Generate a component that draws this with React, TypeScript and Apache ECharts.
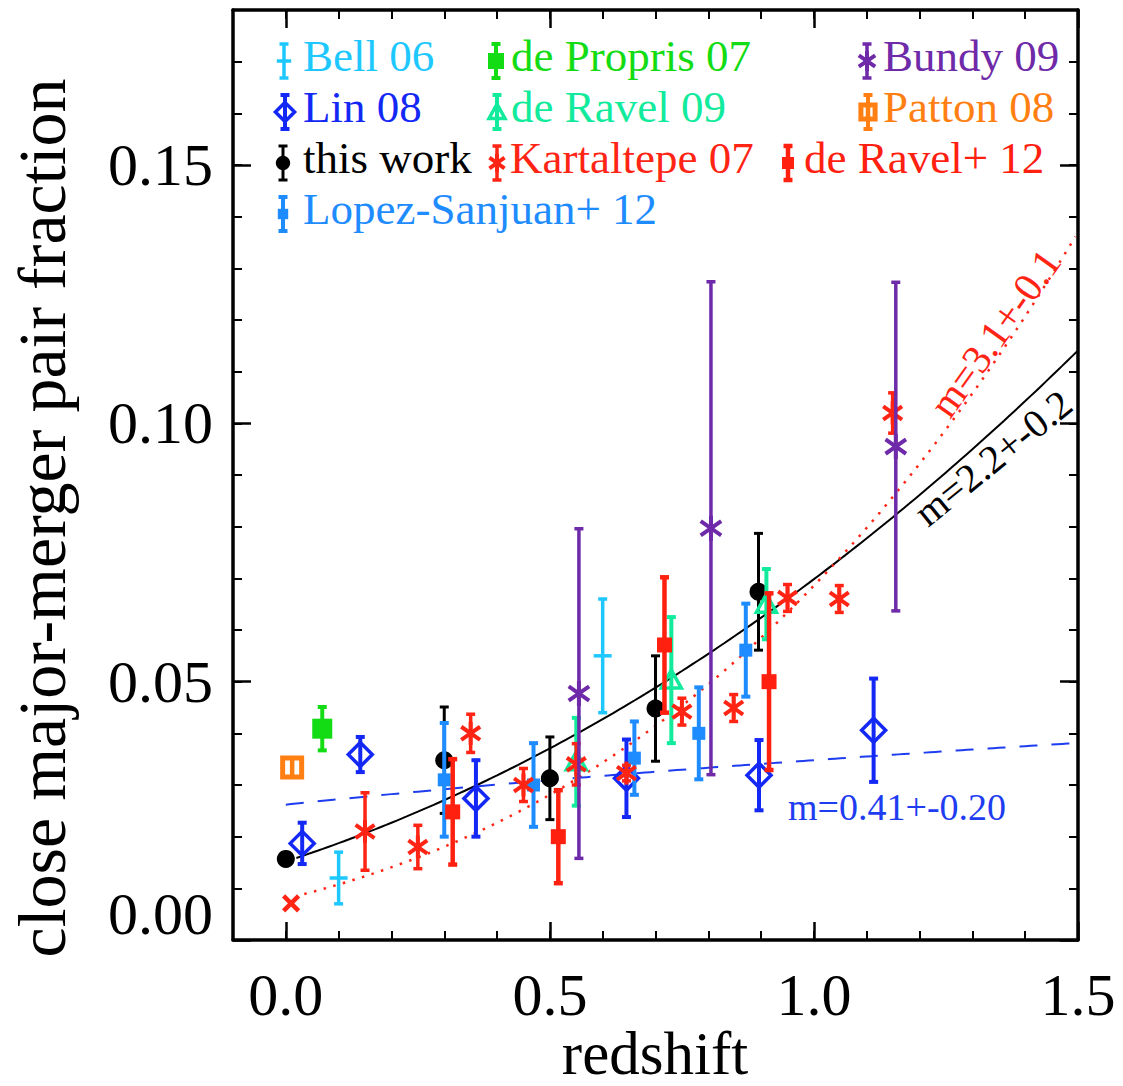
import React, { useEffect, useRef } from "react";
import * as echarts from "echarts";

const SERIF = '"Liberation Serif", "Times New Roman", "DejaVu Serif", serif';

// Axis ticks
const xMajorTicks = [0, 0.5, 1.0, 1.5];
const yMajorTicks = [0, 0.05, 0.1, 0.15];

// Close-pair fractions: redshift, fraction, 1-sigma error
const bellZ = [0.1, 0.6];
const bellF = [0.012, 0.055];
const bellE = [0.005, 0.011];

const linZ = [0.031, 0.141, 0.36, 0.645, 0.896, 1.113];
const linF = [0.0187, 0.0359, 0.0274, 0.0313, 0.0319, 0.0406];
const linE = [0.004, 0.0034, 0.0074, 0.0075, 0.0068, 0.01];

const thisWorkZ = [0.0, 0.3, 0.5, 0.7, 0.895];
const thisWorkF = [0.0157, 0.0348, 0.0313, 0.0448, 0.0674];
const thisWorkE = [0.0008, 0.0103, 0.008, 0.0102, 0.0113];

const lopezZ = [0.3, 0.469, 0.66, 0.782, 0.871];
const lopezF = [0.031, 0.03, 0.0352, 0.04, 0.0561];
const lopezE = [0.011, 0.0081, 0.0071, 0.0089, 0.009];

const dePropZ = [0.069];
const dePropF = [0.0409];
const dePropE = [0.0042];

const deRavel09Z = [0.55, 0.73, 0.91];
const deRavel09F = [0.0345, 0.0503, 0.065];
const deRavel09E = [0.0085, 0.0122, 0.0068];

const kartZ = [0.15, 0.25, 0.35, 0.45, 0.55, 0.645, 0.75, 0.848, 0.95, 1.048, 1.149];
const kartF = [0.021, 0.018, 0.04, 0.03, 0.034, 0.0323, 0.0442, 0.0449, 0.0662, 0.066, 0.102];
const kartE = [0.0075, 0.0042, 0.0037, 0.0032, 0.004, 0.0015, 0.0026, 0.0026, 0.0026, 0.0026, 0.0039];

const kartLocalZ = [0.01];
const kartLocalF = [0.0071];
const kartLocalE = [0];

const deRavel12Z = [0.316, 0.516, 0.717, 0.915];
const deRavel12F = [0.0248, 0.02, 0.0571, 0.05];
const deRavel12E = [0.0102, 0.009, 0.0131, 0.0171];

const bundyZ = [0.555, 0.805, 1.155];
const bundyF = [0.0477, 0.0797, 0.0955];
const bundyE = [0.0319, 0.0477, 0.0318];

const pattonZ = [0.012];
const pattonF = [0.0334];
const pattonE = [0.0012];

// Power-law fits f(z) = f0 (1+z)^m
const fitLabels = ["m=2.2+-0.2", "m=3.1+-0.1", "m=0.41+-0.20"];
const fitM = [2.2, 3.1, 0.41];
const fitNorm = [0.0152, 0.008, 0.0262];
const fitStart = [0.02, 0.035, 0.0];

type Kind = "circle" | "square" | "diamond" | "triangle" | "star" | "plus" | "cross" | "box";
interface Look {
  color: string;
  kind: Kind;
  size: number;
  bar: number;
}

const looks: Record<string, Look> = {
  bell: { color: "#1EC8FF", kind: "plus", size: 18, bar: 3.5 },
  lin: { color: "#1428F5", kind: "diamond", size: 24, bar: 4 },
  thisWork: { color: "#000000", kind: "circle", size: 18, bar: 3 },
  lopez: { color: "#1E8CFF", kind: "square", size: 13, bar: 4 },
  deProp: { color: "#14DC14", kind: "square", size: 20, bar: 4 },
  deRavel09: { color: "#12EA9C", kind: "triangle", size: 20, bar: 4 },
  kart: { color: "#FF2414", kind: "star", size: 23, bar: 3.5 },
  kartLocal: { color: "#FF2414", kind: "cross", size: 20, bar: 3.5 },
  deRavel12: { color: "#FF2010", kind: "square", size: 15, bar: 4.5 },
  bundy: { color: "#6E2AA8", kind: "star", size: 25, bar: 3.5 },
  patton: { color: "#FF7F12", kind: "box", size: 24, bar: 4 },
};

function seg(x1: number, y1: number, x2: number, y2: number, color: string, w: number) {
  return { type: "line", shape: { x1, y1, x2, y2 }, style: { stroke: color, lineWidth: w } };
}

function markerShapes(kind: Kind, cx: number, cy: number, size: number, color: string): any[] {
  const h = size / 2;
  switch (kind) {
    case "circle":
      return [{ type: "circle", shape: { cx, cy, r: h }, style: { fill: color } }];
    case "square":
      return [{ type: "rect", shape: { x: cx - h, y: cy - h, width: size, height: size }, style: { fill: color } }];
    case "diamond":
      return [
        {
          type: "polygon",
          shape: { points: [[cx, cy - h], [cx + h, cy], [cx, cy + h], [cx - h, cy]] },
          style: { fill: "none", stroke: color, lineWidth: 3.5 },
        },
      ];
    case "triangle":
      return [
        {
          type: "polygon",
          shape: { points: [[cx, cy - h], [cx + h, cy + h * 0.8], [cx - h, cy + h * 0.8]] },
          style: { fill: "none", stroke: color, lineWidth: 3.5 },
        },
      ];
    case "star": {
      const a = (35 * Math.PI) / 180;
      const dx = h * Math.cos(a);
      const dy = h * Math.sin(a);
      return [
        seg(cx, cy - h, cx, cy + h, color, 4),
        seg(cx - dx, cy - dy, cx + dx, cy + dy, color, 4),
        seg(cx - dx, cy + dy, cx + dx, cy - dy, color, 4),
      ];
    }
    case "plus":
      return [seg(cx - h, cy, cx + h, cy, color, 3.5)];
    case "cross": {
      const d = h * 0.75;
      return [seg(cx - d, cy - d, cx + d, cy + d, color, 4.5), seg(cx - d, cy + d, cx + d, cy - d, color, 4.5)];
    }
    case "box":
      return [
        {
          type: "rect",
          shape: { x: cx - h + 2.5, y: cy - h + 2.5, width: size - 5, height: size - 5 },
          style: { fill: "#fff", stroke: color, lineWidth: 5 },
        },
        seg(cx, cy - h + 4, cx, cy + h - 4, color, 4.5),
      ];
  }
  return [];
}

function errorBar(x: number, yTop: number, yBot: number, color: string, w: number): any[] {
  if (Math.abs(yBot - yTop) < 1) return [];
  const cap = 4.5;
  return [seg(x, yTop, x, yBot, color, w), seg(x - cap, yTop, x + cap, yTop, color, w), seg(x - cap, yBot, x + cap, yBot, color, w)];
}

function pointSeries(name: string, z: number[], f: number[], e: number[], look: Look) {
  return {
    type: "custom",
    name,
    clip: false,
    data: z.map((v, i) => [v, f[i], f[i] - e[i], f[i] + e[i]]),
    encode: { x: 0, y: 1 },
    renderItem: (_params: any, api: any) => {
      const c = api.coord([api.value(0), api.value(1)]);
      const lo = api.coord([api.value(0), api.value(2)]);
      const hi = api.coord([api.value(0), api.value(3)]);
      return {
        type: "group",
        children: [
          ...errorBar(c[0], hi[1], lo[1], look.color, look.bar),
          ...markerShapes(look.kind, c[0], c[1], look.size, look.color),
        ],
      };
    },
    z: 3,
  };
}

function fitCurve(k: number) {
  const pts: number[][] = [];
  for (let z = fitStart[k]; z <= 1.5001; z += 0.01) pts.push([z, fitNorm[k] * Math.pow(1 + z, fitM[k])]);
  return pts;
}

// Legend layout: label, style key, icon x, text x, row
const legendLabels = ["Bell 06", "de Propris 07", "Bundy 09", "Lin 08", "de Ravel 09", "Patton 08", "this work", "Kartaltepe 07", "de Ravel+ 12", "Lopez-Sanjuan+ 12"];
const legendKeys = ["bell", "deProp", "bundy", "lin", "deRavel09", "patton", "thisWork", "kart", "deRavel12", "lopez"];
const legendIconX = [284, 496, 867, 285, 497, 868, 283, 497, 788, 283];
const legendTextX = [303, 511, 883, 303, 511, 883, 303, 510, 804, 303];
const legendRow = [0, 0, 0, 1, 1, 1, 2, 2, 2, 3];
const legendRowY = [56, 107, 158, 209];

function legendGraphics() {
  const out: any[] = [];
  legendLabels.forEach((label, i) => {
    const look = looks[legendKeys[i]];
    const ty = legendRowY[legendRow[i]];
    const iy = ty + 5;
    const ix = legendIconX[i];
    out.push({
      type: "group",
      z: 100,
      children: [
        ...errorBar(ix, iy - 17, iy + 17, look.color, look.bar),
        ...markerShapes(look.kind, ix, iy, look.size * 0.8, look.color),
      ],
    });
    out.push({
      type: "text",
      z: 100,
      x: legendTextX[i],
      y: ty,
      style: {
        text: label,
        fill: look.color,
        fontSize: 45,
        fontFamily: SERIF,
        align: "left",
        verticalAlign: "middle",
        textAlign: "left",
        textVerticalAlign: "middle",
      },
    });
  });
  return out;
}

function textEl(text: string, x: number, y: number, size: number, color: string, rotDeg: number, align = "center") {
  return {
    type: "text",
    z: 100,
    x,
    y,
    rotation: (rotDeg * Math.PI) / 180,
    style: {
      text,
      fill: color,
      fontSize: size,
      fontFamily: SERIF,
      align,
      verticalAlign: "middle",
      textAlign: align,
      textVerticalAlign: "middle",
    },
  };
}

function buildOption(): any {
  const frame = { color: "#000", width: 3.5 };
  const majorTick = { color: "#000", width: 2.5 };
  const minorTick = { color: "#000", width: 2 };
  const labelFont = { fontFamily: SERIF, fontSize: 60, color: "#000" };

  const xBase = { type: "value", min: -0.1, max: 1.5, splitLine: { show: false } };
  const yBase = { type: "value", min: 0, max: 0.18, splitLine: { show: false } };
  // Ticks point into the plot frame
  const majorTickOpt = (vals: number[]) => ({ show: true, inside: false, length: -18, customValues: vals, lineStyle: majorTick });
  const minorTickOpt = { show: true, inside: false, length: -9, lineStyle: minorTick };
  const hiddenLine = { show: false, onZero: false };

  return {
    animation: false,
    backgroundColor: "#fff",
    grid: { left: 233, top: 10, width: 845, height: 930, containLabel: false, outerBoundsMode: "none" },
    xAxis: [
      {
        ...xBase,
        position: "bottom",
        axisLine: { show: true, onZero: false, lineStyle: frame },
        axisTick: majorTickOpt(xMajorTicks),
        axisLabel: { show: true, customValues: xMajorTicks, formatter: (v: number) => v.toFixed(1), margin: 25, ...labelFont },
      },
      {
        ...xBase,
        position: "bottom",
        interval: 0.1,
        axisLine: hiddenLine,
        axisTick: minorTickOpt,
        axisLabel: { show: false },
      },
      {
        ...xBase,
        position: "top",
        axisLine: { show: true, onZero: false, lineStyle: frame },
        axisTick: majorTickOpt(xMajorTicks),
        axisLabel: { show: false },
      },
      {
        ...xBase,
        position: "top",
        interval: 0.1,
        axisLine: hiddenLine,
        axisTick: minorTickOpt,
        axisLabel: { show: false },
      },
    ],
    yAxis: [
      {
        ...yBase,
        position: "left",
        axisLine: { show: true, onZero: false, lineStyle: frame },
        axisTick: majorTickOpt(yMajorTicks),
        axisLabel: {
          show: true,
          customValues: yMajorTicks,
          margin: 20,
          formatter: (v: number) => (Math.abs(v) < 1e-9 ? "{low|0.00}" : v.toFixed(2)),
          rich: { low: { ...labelFont, padding: [0, 0, 52, 0] } },
          ...labelFont,
        },
      },
      {
        ...yBase,
        position: "left",
        interval: 0.01,
        axisLine: hiddenLine,
        axisTick: minorTickOpt,
        axisLabel: { show: false },
      },
      {
        ...yBase,
        position: "right",
        axisLine: { show: true, onZero: false, lineStyle: frame },
        axisTick: majorTickOpt(yMajorTicks),
        axisLabel: { show: false },
      },
      {
        ...yBase,
        position: "right",
        interval: 0.01,
        axisLine: hiddenLine,
        axisTick: minorTickOpt,
        axisLabel: { show: false },
      },
    ],
    series: [
      {
        type: "line",
        name: fitLabels[0],
        data: fitCurve(0),
        showSymbol: false,
        symbol: "none",
        lineStyle: { color: "#000", width: 2 },
        z: 2,
      },
      {
        type: "line",
        name: fitLabels[1],
        data: fitCurve(1),
        showSymbol: false,
        symbol: "none",
        lineStyle: { color: "#FF2414", width: 2.5, type: [2.5, 7.5] },
        z: 2,
      },
      {
        type: "line",
        name: fitLabels[2],
        data: fitCurve(2),
        showSymbol: false,
        symbol: "none",
        lineStyle: { color: "#1E3CF0", width: 2, type: [18, 14] },
        z: 2,
      },
      pointSeries("Bell 06", bellZ, bellF, bellE, looks.bell),
      pointSeries("Lin 08", linZ, linF, linE, looks.lin),
      pointSeries("this work", thisWorkZ, thisWorkF, thisWorkE, looks.thisWork),
      pointSeries("Lopez-Sanjuan+ 12", lopezZ, lopezF, lopezE, looks.lopez),
      pointSeries("de Propris 07", dePropZ, dePropF, dePropE, looks.deProp),
      pointSeries("de Ravel 09", deRavel09Z, deRavel09F, deRavel09E, looks.deRavel09),
      pointSeries("Kartaltepe 07", kartZ, kartF, kartE, looks.kart),
      pointSeries("Kartaltepe 07 local", kartLocalZ, kartLocalF, kartLocalE, looks.kartLocal),
      pointSeries("Bundy 09", bundyZ, bundyF, bundyE, looks.bundy),
      pointSeries("Patton 08", pattonZ, pattonF, pattonE, looks.patton),
      pointSeries("de Ravel+ 12", deRavel12Z, deRavel12F, deRavel12E, looks.deRavel12),
    ],
    graphic: [
      ...legendGraphics(),
      textEl(fitLabels[0], 993, 458, 40, "#000", 39),
      textEl(fitLabels[1], 995, 333, 41, "#FF2414", 54.5),
      textEl(fitLabels[2], 788, 807, 38, "#1E3CF0", 0, "left"),
      textEl("close major-merger pair fraction", 42, 518, 68, "#000", 90),
      textEl("redshift", 655, 1053, 61, "#000", 0),
    ],
  };
}

export default function App() {
  const ref = useRef<HTMLDivElement>(null);
  useEffect(() => {
    if (!ref.current) return;
    const chart = echarts.init(ref.current, undefined, { renderer: "svg" });
    chart.setOption(buildOption());
    return () => chart.dispose();
  }, []);
  return (
    <div
      ref={ref}
      style={{ position: "absolute", left: 0, top: 0, width: 1123, height: 1086, background: "#fff" }}
    />
  );
}
